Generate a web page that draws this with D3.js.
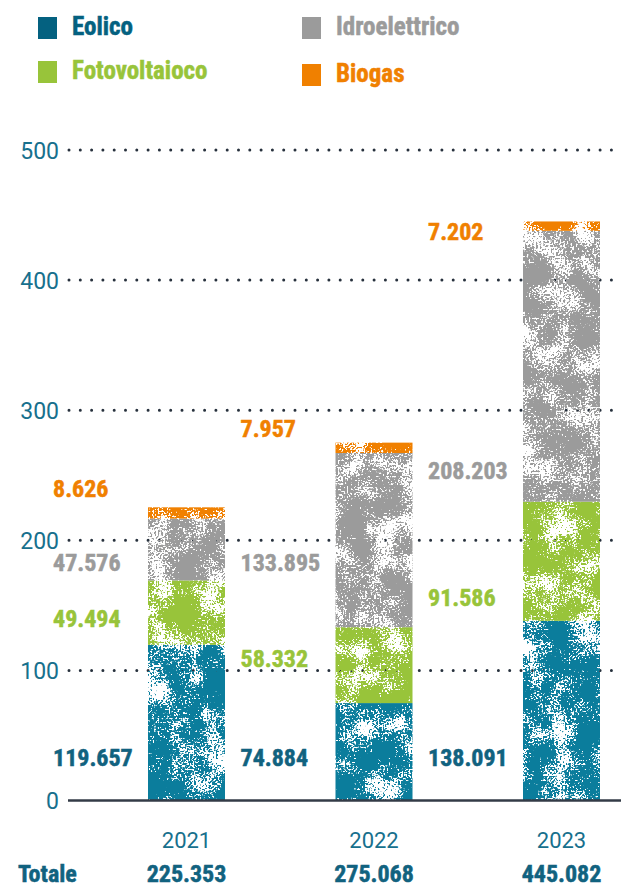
<!DOCTYPE html>
<html><head><meta charset="utf-8">
<script src="https://cdn.jsdelivr.net/npm/d3@7"></script>
<style>
html,body{margin:0;padding:0;background:#fff;}
svg{display:block;}
</style></head>
<body>
<script>
// ---- data ----
const years = ["2021", "2022", "2023"];
const eolico = [119.657, 74.884, 138.091];
const fotovoltaico = [49.494, 58.332, 91.586];
const idroelettrico = [47.576, 133.895, 208.203];
const biogas = [8.626, 7.957, 7.202];
const totals = [225.353, 275.068, 445.082];
const yTicks = [0, 100, 200, 300, 400, 500];

const seriesNames = ["Eolico", "Fotovoltaioco", "Idroelettrico", "Biogas"];
const seriesKeys = ["eolico", "fotovoltaico", "idroelettrico", "biogas"];
const seriesVals = [eolico, fotovoltaico, idroelettrico, biogas];
const barColors = ["#0b7d9c", "#98c43a", "#9b9b9b", "#f08000"];
const legendColors = ["#046180", "#98c43a", "#9b9b9b", "#f08000"];
const textColors = ["#11627f", "#98c43a", "#9b9b9b", "#f08000"];

// label placement (layout, pixel centres)
const labelCenters = [
  [757, 757, 757],
  [618, 658, 597],
  [562, 562, 470],
  [488, 428, 231]
];

const W = 621, H = 888;
const svg = d3.select("body").append("svg").attr("width", W).attr("height", H);

const defs = svg.append("defs");
const f = defs.append("filter").attr("id", "grain")
  .attr("x", 0).attr("y", 0).attr("width", 1).attr("height", 1)
  .attr("filterUnits", "objectBoundingBox").attr("color-interpolation-filters", "sRGB");
f.append("feTurbulence").attr("type", "fractalNoise").attr("baseFrequency", 0.55)
  .attr("numOctaves", 1).attr("seed", 2).attr("result", "fine");
f.append("feTurbulence").attr("type", "fractalNoise").attr("baseFrequency", 0.035)
  .attr("numOctaves", 3).attr("seed", 9).attr("result", "coarse");
f.append("feComposite").attr("in", "fine").attr("in2", "coarse").attr("operator", "arithmetic")
  .attr("k1", 0).attr("k2", 0.6).attr("k3", 0.6).attr("k4", -0.1).attr("result", "mix");
const ct = f.append("feComponentTransfer").attr("in", "mix").attr("result", "m");
ct.append("feFuncA").attr("type", "linear").attr("slope", 25).attr("intercept", -10.6);
f.append("feComposite").attr("in", "SourceGraphic").attr("in2", "m").attr("operator", "in");

const y = d3.scaleLinear().domain([0, 500]).range([800.5, 150]);
const x = d3.scalePoint().domain(years).range([186.5, 561.5]);
const barW = 77;

const tickFont = "Roboto, 'Open Sans', sans-serif";
const boldFont = "'Liberation Sans Narrow', 'Roboto Condensed', 'DejaVu Sans Condensed', sans-serif";

// gridlines
const grid = svg.append("g");
yTicks.filter(t => t > 0).forEach(t => {
  grid.append("line")
    .attr("x1", 69).attr("x2", W).attr("y1", y(t)).attr("y2", y(t))
    .attr("stroke", "#27313d").attr("stroke-width", 3)
    .attr("stroke-linecap", "round").attr("stroke-dasharray", "0 11.3");
});

// y axis labels
const yAxis = d3.axisLeft(y).tickValues(yTicks).tickSize(0).tickPadding(0).tickFormat(d3.format("d"));
const ga = svg.append("g").attr("transform", "translate(59,0)").call(yAxis);
ga.select(".domain").remove();
ga.selectAll("text").attr("font-family", tickFont).attr("font-size", 23)
  .attr("fill", "#17708d").attr("dy", "0.35em");

// stack
const rows = years.map((yr, i) => {
  const r = { year: yr };
  seriesKeys.forEach((k, j) => r[k] = seriesVals[j][i]);
  return r;
});
const stacked = d3.stack().keys(seriesKeys)(rows);

const bars = svg.append("g");
stacked.forEach((s, j) => {
  bars.selectAll(null).data(s).enter().append("rect")
    .attr("x", d => x(d.data.year) - barW / 2)
    .attr("width", barW)
    .attr("y", d => y(d[1]))
    .attr("height", d => y(d[0]) - y(d[1]))
    .attr("fill", barColors[j])
    .attr("filter", "url(#grain)");
});

// zero line
svg.append("line").attr("x1", 68).attr("x2", W).attr("y1", y(0)).attr("y2", y(0))
  .attr("stroke", "#333b47").attr("stroke-width", 2.5);

// value labels
const it = d3.formatLocale({ decimal: ",", thousands: ".", grouping: [3], currency: ["€", ""] });
const fmt = v => it.format(",")(Math.round(v * 1000));
const lab = svg.append("g");
seriesVals.forEach((vals, j) => {
  lab.selectAll(null).data(vals).enter().append("text")
    .attr("x", (d, i) => x(years[i]) - barW / 2 - 95)
    .attr("y", (d, i) => labelCenters[j][i] + 8.5)
    .attr("font-family", boldFont).attr("font-weight", "bold").attr("font-size", 24)
    .attr("fill", textColors[j]).attr("stroke", textColors[j]).attr("stroke-width", 0.5)
    .text(d => fmt(d));
});

// year labels
svg.append("g").selectAll("text").data(years).enter().append("text")
  .attr("x", d => x(d)).attr("y", 848).attr("text-anchor", "middle")
  .attr("font-family", tickFont).attr("font-size", 22).attr("fill", "#17708d").text(d => d);

// totals
svg.append("text").attr("x", 18).attr("y", 882).attr("font-family", boldFont)
  .attr("font-weight", "bold").attr("font-size", 24).attr("fill", "#11627f")
  .attr("stroke", "#11627f").attr("stroke-width", 0.5).text("Totale");
svg.append("g").selectAll("text").data(totals).enter().append("text")
  .attr("x", (d, i) => x(years[i])).attr("y", 882)
  .attr("text-anchor", "middle").attr("font-family", boldFont).attr("font-weight", "bold")
  .attr("font-size", 24).attr("fill", "#11627f").attr("stroke", "#11627f").attr("stroke-width", 0.5)
  .text(d => fmt(d));

// legend
const legendPos = [[38, 17], [38, 61], [302, 17], [302, 64]];
const lg = svg.append("g");
seriesNames.forEach((name, j) => {
  const [lx, ly] = legendPos[j];
  const c = j === 0 ? "#046180" : textColors[j];
  lg.append("rect").attr("x", lx).attr("y", ly).attr("width", 19).attr("height", 22).attr("fill", legendColors[j]);
  lg.append("text").attr("x", lx + 34).attr("y", ly + 18).attr("font-family", boldFont)
    .attr("font-weight", "bold").attr("font-size", 25).attr("fill", c)
    .attr("stroke", c).attr("stroke-width", 0.5)
    .text(name);
});
</script>
</body></html>
